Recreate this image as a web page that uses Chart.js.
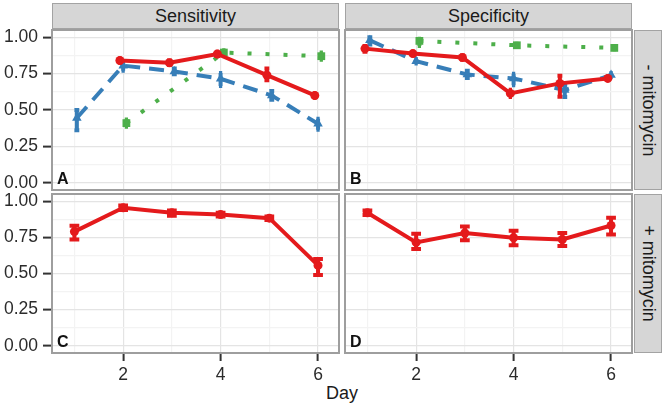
<!DOCTYPE html>
<html><head><meta charset="utf-8">
<script src="https://cdn.jsdelivr.net/npm/chart.js@4.4.1/dist/chart.umd.min.js"></script>
<style>
html,body{margin:0;padding:0;background:#fff;}
body{width:664px;height:411px;position:relative;overflow:hidden;font-family:"Liberation Sans",Arial,Helvetica,sans-serif;}
canvas{position:absolute;}
.strip{position:absolute;background:#D6D6D6;border:1.5px solid #A3A3A3;box-sizing:border-box;color:#1a1a1a;font-size:18px;display:flex;align-items:center;justify-content:center;}
.vtext{transform:rotate(90deg);white-space:nowrap;}
#xtitle{position:absolute;left:292px;width:100px;text-align:center;top:383px;font-size:18px;color:#1a1a1a;}
</style></head><body>
<div class="strip" style="left:52px;top:3px;width:287px;height:26px;" id="colA"></div>
<div class="strip" style="left:345px;top:3px;width:287px;height:26px;" id="colB"></div>
<div class="strip" style="left:634px;top:30px;width:28px;height:160px;"><span class="vtext" id="row1"></span></div>
<div class="strip" style="left:634px;top:194px;width:28px;height:159px;"><span class="vtext" id="row2"></span></div>
<div id="xtitle"></div>
<canvas id="cA" width="355" height="192" style="left:0px;top:14px;"></canvas>
<canvas id="cB" width="319" height="192" style="left:329px;top:14px;"></canvas>
<canvas id="cC" width="355" height="217" style="left:0px;top:178px;"></canvas>
<canvas id="cD" width="319" height="217" style="left:329px;top:178px;"></canvas>
<script>
// ---------- data ----------
const days = [1, 2, 3, 4, 5, 6];
const xMajorTicks = [2, 4, 6];
const xMinorTicks = [1, 3, 5];
const yMajorTicks = [0, 0.25, 0.5, 0.75, 1];
const yMinorTicks = [0.125, 0.375, 0.625, 0.875];
const columnTitles = ['Sensitivity', 'Specificity'];
const rowTitles = ['- mitomycin', '+ mitomycin'];
const panelLetters = ['A', 'B', 'C', 'D'];
const xAxisTitle = 'Day';

// Panel A: Sensitivity, - mitomycin
const sensMinusRed     = [null, 0.840, 0.825, 0.885, 0.740, 0.600];
const sensMinusRedLo   = [null, 0.825, 0.810, 0.870, 0.705, 0.585];
const sensMinusRedHi   = [null, 0.855, 0.840, 0.900, 0.785, 0.615];
const sensMinusBlue    = [0.445, 0.805, 0.765, 0.715, 0.600, 0.405];
const sensMinusBlueLo  = [0.360, 0.770, 0.745, 0.665, 0.570, 0.365];
const sensMinusBlueHi  = [0.500, 0.830, 0.785, 0.755, 0.630, 0.440];
const sensMinusGreen   = [null, 0.410, null, 0.895, null, 0.870];
const sensMinusGreenLo = [null, 0.385, null, 0.875, null, 0.845];
const sensMinusGreenHi = [null, 0.435, null, 0.910, null, 0.895];

// Panel B: Specificity, - mitomycin
const specMinusRed     = [0.922, 0.888, 0.861, 0.614, 0.683, 0.717];
const specMinusRedLo   = [0.900, 0.875, 0.848, 0.590, 0.591, 0.705];
const specMinusRedHi   = [0.940, 0.900, 0.874, 0.640, 0.735, 0.730];
const specMinusBlue    = [0.979, 0.836, 0.744, 0.717, 0.637, 0.740];
const specMinusBlueLo  = [0.950, 0.820, 0.720, 0.670, 0.590, 0.725];
const specMinusBlueHi  = [1.000, 0.850, 0.770, 0.750, 0.670, 0.755];
const specMinusGreen   = [null, 0.975, null, 0.945, null, 0.927];
const specMinusGreenLo = [null, 0.940, null, 0.935, null, 0.917];
const specMinusGreenHi = [null, 0.990, null, 0.955, null, 0.937];

// Panel C: Sensitivity, + mitomycin
const sensPlusRed   = [0.790, 0.955, 0.920, 0.908, 0.883, 0.556];
const sensPlusRedLo = [0.735, 0.940, 0.900, 0.895, 0.870, 0.490];
const sensPlusRedHi = [0.830, 0.970, 0.935, 0.920, 0.895, 0.600];

// Panel D: Specificity, + mitomycin
const specPlusRed   = [0.920, 0.715, 0.780, 0.747, 0.735, 0.832];
const specPlusRedLo = [0.905, 0.670, 0.730, 0.695, 0.690, 0.770];
const specPlusRedHi = [0.935, 0.775, 0.825, 0.795, 0.780, 0.885];

// ---------- styling ----------
const RED = '#E41A1C', BLUE = '#377EB8', GREEN = '#4DAF4A';
const MAJOR_GRID = '#E4E4E4', MINOR_GRID = '#F3F3F3';
const FONT = '"Liberation Sans", Arial, Helvetica, sans-serif';
const DODGE_W = 0.2;
const LINE_W = 4;

document.getElementById('colA').textContent = columnTitles[0];
document.getElementById('colB').textContent = columnTitles[1];
document.getElementById('row1').textContent = rowTitles[0];
document.getElementById('row2').textContent = rowTitles[1];
document.getElementById('xtitle').textContent = xAxisTitle;

const isIn = (arr, v) => arr.some(a => Math.abs(a - v) < 1e-9);

// dodge positions like ggplot's position_dodge
function buildDatasets(series) {
  return series.map(s => {
    const data = [];
    days.forEach((d, i) => {
      const counted = series.filter(t => t.always || t.vals[i] !== null);
      const n = counted.length;
      const slot = counted.indexOf(s);
      if (s.vals[i] === null) return;
      const off = n > 1 ? (slot - (n - 1) / 2) * DODGE_W / n : 0;
      data.push({ x: d + off, y: s.vals[i], lo: s.lo[i], hi: s.hi[i], cap: DODGE_W / n });
    });
    return {
      data, borderColor: s.color, backgroundColor: s.color,
      borderWidth: LINE_W, borderDash: s.dash || [], borderCapStyle: 'butt',
      pointStyle: s.style, pointRadius: s.radius, pointBorderWidth: 0,
      pointBackgroundColor: s.color, tension: 0, spanGaps: true, fill: false
    };
  });
}

const errPlugin = {
  id: 'errbars',
  afterDatasetDraw(chart, args) {
    const ds = chart.data.datasets[args.index];
    const { ctx, chartArea: ca } = chart;
    const x = chart.scales.x, y = chart.scales.y;
    ctx.save();
    ctx.beginPath(); ctx.rect(ca.left, ca.top, ca.width, ca.height); ctx.clip();
    ctx.strokeStyle = ds.borderColor; ctx.lineWidth = LINE_W; ctx.setLineDash([]); ctx.lineCap = 'butt';
    ds.data.forEach(p => {
      if (p.lo == null || p.hi == null) return;
      const px = x.getPixelForValue(p.x);
      const half = x.getPixelForValue(p.x + p.cap / 2) - px;
      const yl = y.getPixelForValue(p.lo), yh = y.getPixelForValue(p.hi);
      ctx.beginPath();
      ctx.moveTo(px, yl); ctx.lineTo(px, yh);
      ctx.moveTo(px - half, yl); ctx.lineTo(px + half, yl);
      ctx.moveTo(px - half, yh); ctx.lineTo(px + half, yh);
      ctx.stroke();
    });
    ctx.restore();
  }
};

const framePlugin = {
  id: 'frame',
  afterDraw(chart, args, opts) {
    const { ctx, chartArea: ca } = chart;
    ctx.save();
    ctx.strokeStyle = '#9E9E9E'; ctx.lineWidth = 2; ctx.setLineDash([]);
    ctx.strokeRect(ca.left, ca.top, ca.width, ca.height);
    ctx.fillStyle = '#111';
    ctx.font = 'bold 16px ' + FONT;
    ctx.textBaseline = 'alphabetic'; ctx.textAlign = 'left';
    ctx.fillText(opts.letter, ca.left + 5, ca.bottom - 6);
    ctx.restore();
  }
};

function makePanel(id, datasets, letter, showY, showX, pad, yW, xH) {
  new Chart(document.getElementById(id), {
    type: 'line',
    data: { datasets },
    plugins: [errPlugin, framePlugin],
    options: {
      responsive: false, animation: false, devicePixelRatio: 1,
      layout: { padding: pad },
      plugins: { legend: { display: false }, tooltip: { enabled: false }, frame: { letter } },
      scales: {
        x: {
          type: 'linear', min: 0.54, max: 6.43,
          afterBuildTicks: s => { s.ticks = xMinorTicks.concat(xMajorTicks).sort((a, b) => a - b).map(v => ({ value: v })); },
          afterFit: s => { s.height = xH; },
          border: { display: false },
          grid: {
            color: c => isIn(xMajorTicks, c.tick.value) ? MAJOR_GRID : MINOR_GRID,
            lineWidth: 1.2, drawTicks: showX, tickLength: 8, tickWidth: 2,
            tickColor: c => isIn(xMajorTicks, c.tick.value) ? '#333' : 'rgba(0,0,0,0)'
          },
          ticks: {
            display: showX, autoSkip: false, maxRotation: 0, padding: 4,
            color: '#2b2b2b', font: { family: FONT, size: 17.5 },
            callback: v => isIn(xMajorTicks, v) ? String(v) : ''
          }
        },
        y: {
          type: 'linear', min: -0.05, max: 1.05,
          afterBuildTicks: s => { s.ticks = yMajorTicks.concat(yMinorTicks).sort((a, b) => a - b).map(v => ({ value: v })); },
          afterFit: s => { s.width = yW; },
          border: { display: false },
          grid: {
            color: c => isIn(yMajorTicks, c.tick.value) ? MAJOR_GRID : MINOR_GRID,
            lineWidth: 1.2, drawTicks: showY, tickLength: 9, tickWidth: 2,
            tickColor: c => isIn(yMajorTicks, c.tick.value) ? '#333' : 'rgba(0,0,0,0)'
          },
          ticks: {
            display: showY, autoSkip: false, padding: 5,
            color: '#2b2b2b', font: { family: FONT, size: 17.5 },
            callback: v => isIn(yMajorTicks, v) ? v.toFixed(2) : ''
          }
        }
      }
    }
  });
}

function three(r, rl, rh, b, bl, bh, g, gl, gh) {
  return buildDatasets([
    { vals: r, lo: rl, hi: rh, color: RED, style: 'circle', radius: 4.5, always: true },
    { vals: b, lo: bl, hi: bh, color: BLUE, style: 'triangle', radius: 5.5, dash: [15, 9], always: true },
    { vals: g, lo: gl, hi: gh, color: GREEN, style: 'rect', radius: 5.5, dash: [4, 14], always: false }
  ]);
}
function one(r, rl, rh) {
  return buildDatasets([{ vals: r, lo: rl, hi: rh, color: RED, style: 'circle', radius: 4.5, always: true }]);
}

makePanel('cA', three(sensMinusRed, sensMinusRedLo, sensMinusRedHi, sensMinusBlue, sensMinusBlueLo, sensMinusBlueHi, sensMinusGreen, sensMinusGreenLo, sensMinusGreenHi),
  panelLetters[0], true, false, { left: 0, top: 16, right: 16, bottom: 16 }, 52, 0);
makePanel('cB', three(specMinusRed, specMinusRedLo, specMinusRedHi, specMinusBlue, specMinusBlueLo, specMinusBlueHi, specMinusGreen, specMinusGreenLo, specMinusGreenHi),
  panelLetters[1], false, false, { left: 16, top: 16, right: 16, bottom: 16 }, 0, 0);
makePanel('cC', one(sensPlusRed, sensPlusRedLo, sensPlusRedHi),
  panelLetters[2], true, true, { left: 0, top: 16, right: 16, bottom: 0 }, 52, 42);
makePanel('cD', one(specPlusRed, specPlusRedLo, specPlusRedHi),
  panelLetters[3], false, true, { left: 16, top: 16, right: 16, bottom: 0 }, 0, 42);
</script>
</body></html>
